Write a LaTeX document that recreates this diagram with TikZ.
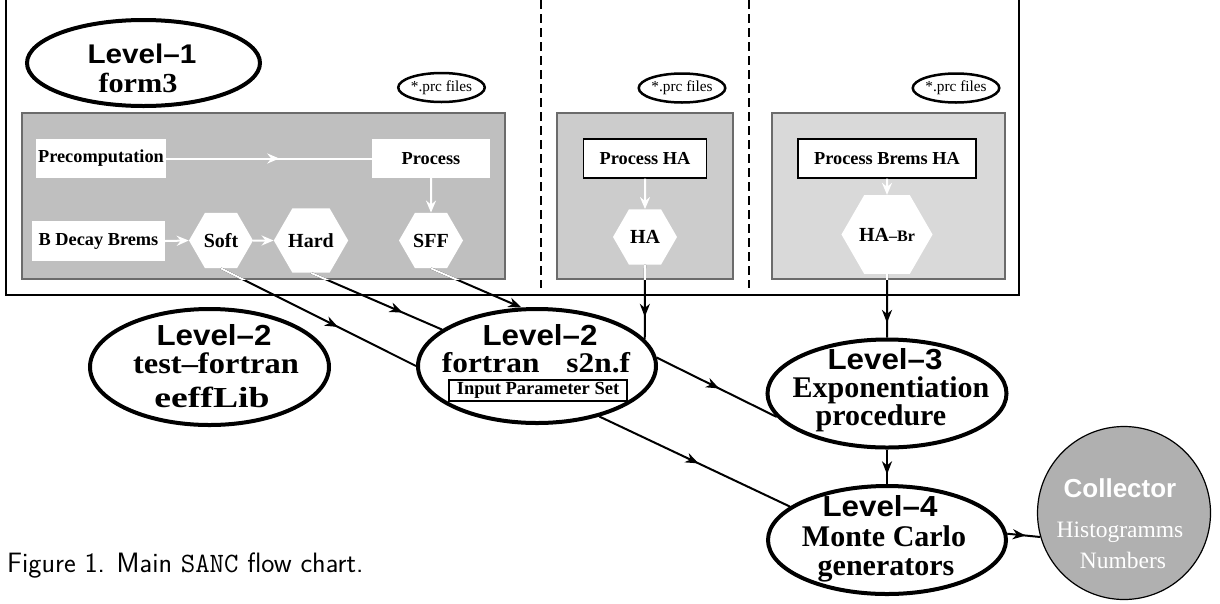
\documentclass[tikz,border=0pt]{standalone}
\usepackage{fontspec}
\usetikzlibrary{arrows.meta,shapes.geometric,decorations.markings}
\newfontfamily\hvx[FakeStretch=1.1]{Liberation Sans}
\newfontfamily\hvy[FakeStretch=1.08]{Liberation Sans}
\newfontfamily\hvn{Liberation Sans}
\newfontfamily\tmx[FakeStretch=1.1]{Liberation Serif}
\newfontfamily\tmw[FakeStretch=1.3]{Liberation Serif}
\newfontfamily\tmn{Liberation Serif}
\newcommand\mylvA{\hvx\bfseries\fontsize{27}{27}\selectfont}
\newcommand\mylvB{\hvy\bfseries\fontsize{29}{29}\selectfont}
\newcommand\mytmA{\tmx\bfseries\fontsize{27.5}{28}\selectfont}
\newcommand\mytmB{\tmn\bfseries\fontsize{30}{30}\selectfont}
\newcommand\mytmT{\tmx\bfseries\fontsize{29.5}{30}\selectfont}
\newcommand\mytmS{\tmx\bfseries\fontsize{28.5}{30}\selectfont}
\newcommand\mytmW{\tmw\bfseries\fontsize{29}{29}\selectfont}
\newcommand\mysm{\tmn\bfseries\fontsize{18.3}{19}\selectfont}
\newcommand\myhex{\tmn\bfseries\fontsize{20}{20}\selectfont}
\definecolor{boxA}{gray}{0.75}
\definecolor{boxB}{gray}{0.8}
\definecolor{boxC}{gray}{0.85}
\definecolor{collg}{gray}{0.69}
\definecolor{edgeg}{gray}{0.42}
\tikzset{
  conn/.style={line width=2pt, draw=black},
  wconn/.style={line width=2pt, draw=white},
  midarr/.style={postaction={decorate}, decoration={markings,
     mark=at position #1 with {\arrow{Stealth[length=13pt,width=10pt,inset=4pt]}}}},
  wmidarr/.style={postaction={decorate}, decoration={markings,
     mark=at position #1 with {\arrow{Stealth[length=12pt,width=10pt,inset=4pt,color=white]}}}},
  endarr/.style={-{Stealth[length=13pt,width=10pt,inset=4pt]}},
  wendarr/.style={-{Stealth[length=12pt,width=10pt,inset=4pt]}},
  lvl/.style={ellipse, draw=black, line width=4pt, fill=white, inner sep=0pt},
  prc/.style={ellipse, draw=black, line width=2.5pt, minimum width=85pt, minimum height=29pt,
     inner sep=0pt, font=\tmn\fontsize{15.3}{16}\selectfont},
  gbox/.style={rectangle, draw=edgeg, line width=1.2pt, inner sep=0pt},
  wbox/.style={rectangle, fill=white, inner sep=0pt, minimum height=39pt, font=\mysm},
  hexa/.style={regular polygon, regular polygon sides=6, minimum size=64pt, inner sep=0pt,
     fill=white, font=\myhex},
  txt/.style={inner sep=0pt, anchor=base},
}
\begin{document}
\begin{tikzpicture}[x=1pt,y=-1pt]
\useasboundingbox (0,0) rectangle (1220,603);
\clip (0,0) rectangle (1220,603);
\fill[white] (0,0) rectangle (1220,603);
% frame and separators
\draw[line width=1.2pt] (6,-5) rectangle (1019,295);
\draw[line width=1.5pt, dash pattern=on 9pt off 5pt] (541,0) -- (541,288);
\draw[line width=1.5pt, dash pattern=on 9pt off 5pt] (749,0) -- (749,288);
% gray boxes
\node[gbox, fill=boxA, minimum width=483pt, minimum height=166pt] (box1) at (263.5,196) {};
\node[gbox, fill=boxB, minimum width=176pt, minimum height=166pt] (box2) at (645,196) {};
\node[gbox, fill=boxC, minimum width=233pt, minimum height=166pt] (box3) at (888.5,196) {};
% prc ellipses
\node[prc] (prc1) at (441.5,87.5) {*.prc files};
\node[prc] (prc2) at (682,88) {*.prc files};
\node[prc] (prc3) at (956,88) {*.prc files};
% Level-1
\node[lvl, minimum width=233pt, minimum height=86pt] (L1) at (143.5,63) {};
\node[txt, font=\mylvA] (L1a) at (142,63) {Level–1};
\node[txt, font=\mytmA] (L1b) at (138,92) {form3};
% inner boxes
\node[wbox, minimum width=130pt] (Prec) at (101,158.5) {Precomputation};
\node[wbox, minimum width=118pt] (Proc) at (431,158.5) {Process};
\node[wbox, minimum width=133pt, minimum height=40pt] (BDB) at (98.5,241) {B Decay Brems};
\node[wbox, draw=black, line width=1.2pt, minimum width=123pt] (PHA) at (645,158.5) {Process HA};
\node[wbox, draw=black, line width=1.2pt, minimum width=178pt] (PBHA) at (887,158.5) {Process Brems HA};
% hexagons
\node[hexa] (Soft) at (221,240.5) {Soft};
\node[hexa] (Hard) at (311,240.5) {Hard};
\node[hexa] (SFF) at (431,240.5) {SFF};
\node[hexa] (HA) at (645,237) {HA};
\node[hexa] (HABr) at (887,234.5) {HA{\fontsize{16}{16}\selectfont –Br}};
% white arrows
\draw[wconn, wmidarr=0.55] (Prec.east) -- (Proc.west);
\draw[wconn, wendarr] (BDB.east) -- (Soft.west);
\draw[wconn, wendarr] (Soft.east) -- (Hard.west);
\draw[wconn, wendarr] (Proc.south) -- (SFF.north);
\draw[wconn, wendarr] (PHA.south) -- (HA.north);
\draw[wconn, wendarr] (PBHA.south) -- (HABr.north);
% lower ellipses
\node[lvl, minimum width=239pt, minimum height=116pt] (T) at (209.5,367) {};
\node[txt, font=\mylvB] (Ta) at (214,345) {Level–2};
\node[txt, font=\mytmT] (Tb) at (216,373) {test–fortran};
\node[txt, font=\mytmW] (Tc) at (212,407) {eeffLib};
\node[lvl, minimum width=238pt, minimum height=114pt] (s2n) at (537,366) {};
\node[txt, font=\mylvB] (Sa) at (540,345) {Level–2};
\node[txt, font=\mytmS] (Sb) at (536,372) {fortran\hspace{27pt}s2n.f};
\node[draw=black, line width=1.2pt, minimum width=178pt, minimum height=21pt, inner sep=0pt,
      font=\tmn\bfseries\fontsize{18.5}{19}\selectfont] (ips) at (538,390.5) {Input Parameter Set};
\node[lvl, minimum width=239pt, minimum height=108pt] (L3) at (887,393.5) {};
\node[txt, font=\mylvB] (L3a) at (885,369) {Level–3};
\node[txt, font=\mytmB] (L3b) at (891,397) {Exponentiation};
\node[txt, font=\mytmB] (L3c) at (881,425) {procedure};
\node[lvl, minimum width=238pt, minimum height=108pt] (L4) at (887,540) {};
\node[txt, font=\mylvB] (L4a) at (880,516) {Level–4};
\node[txt, font=\mytmB] (L4b) at (884,546) {Monte Carlo};
\node[txt, font=\mytmB] (L4c) at (886,575) {generators};
% collector
\node[circle, draw=black, line width=1.2pt, fill=collg, minimum size=173pt, inner sep=0pt] (Coll) at (1124,513) {};
\node[txt, text=white, font=\hvn\bfseries\fontsize{26}{26}\selectfont] (Ca) at (1120,497) {Collector};
\node[txt, text=white, font=\tmn\fontsize{23.5}{24}\selectfont] (Cb) at (1120,537) {Histogramms};
\node[txt, text=white, font=\tmn\fontsize{23.5}{24}\selectfont] (Cc) at (1123,568) {Numbers};
% black connectors
\draw[conn, midarr=0.6] (Soft.south) -- (s2n.west);
\draw[conn, midarr=0.7] (Hard.south) -- (s2n.159);
\draw[conn, endarr] (SFF.south) -- (s2n.105);
\draw[conn, midarr=0.7] (HA.south) -- (s2n.14);
\draw[conn, midarr=0.77] (HABr.south) -- (L3.north);
\draw[conn, midarr=0.52] (s2n.4) -- (L3.192);
\draw[conn, midarr=0.52] (s2n.321) -- (L4.161);
\draw[conn, midarr=0.72] (L3.south) -- (L4.north);
\draw[conn, midarr=0.56] (L4.3) -- (Coll.196);
% white parts inside the boxes
\begin{scope}
\clip (0,0) rectangle (box3.south east);
\draw[wconn] (Soft.south) -- (s2n.west);
\draw[wconn] (Hard.south) -- (s2n.159);
\draw[wconn] (SFF.south) -- (s2n.105);
\draw[wconn] (HA.south) -- (s2n.14);
\draw[wconn] (HABr.south) -- (L3.north);
\end{scope}
% caption
\node[txt, anchor=base west, font=\sffamily\fontsize{28}{30}\selectfont] (cap) at (7,572) {Figure 1. Main \texttt{SANC} flow chart.};
\end{tikzpicture}
\end{document}
